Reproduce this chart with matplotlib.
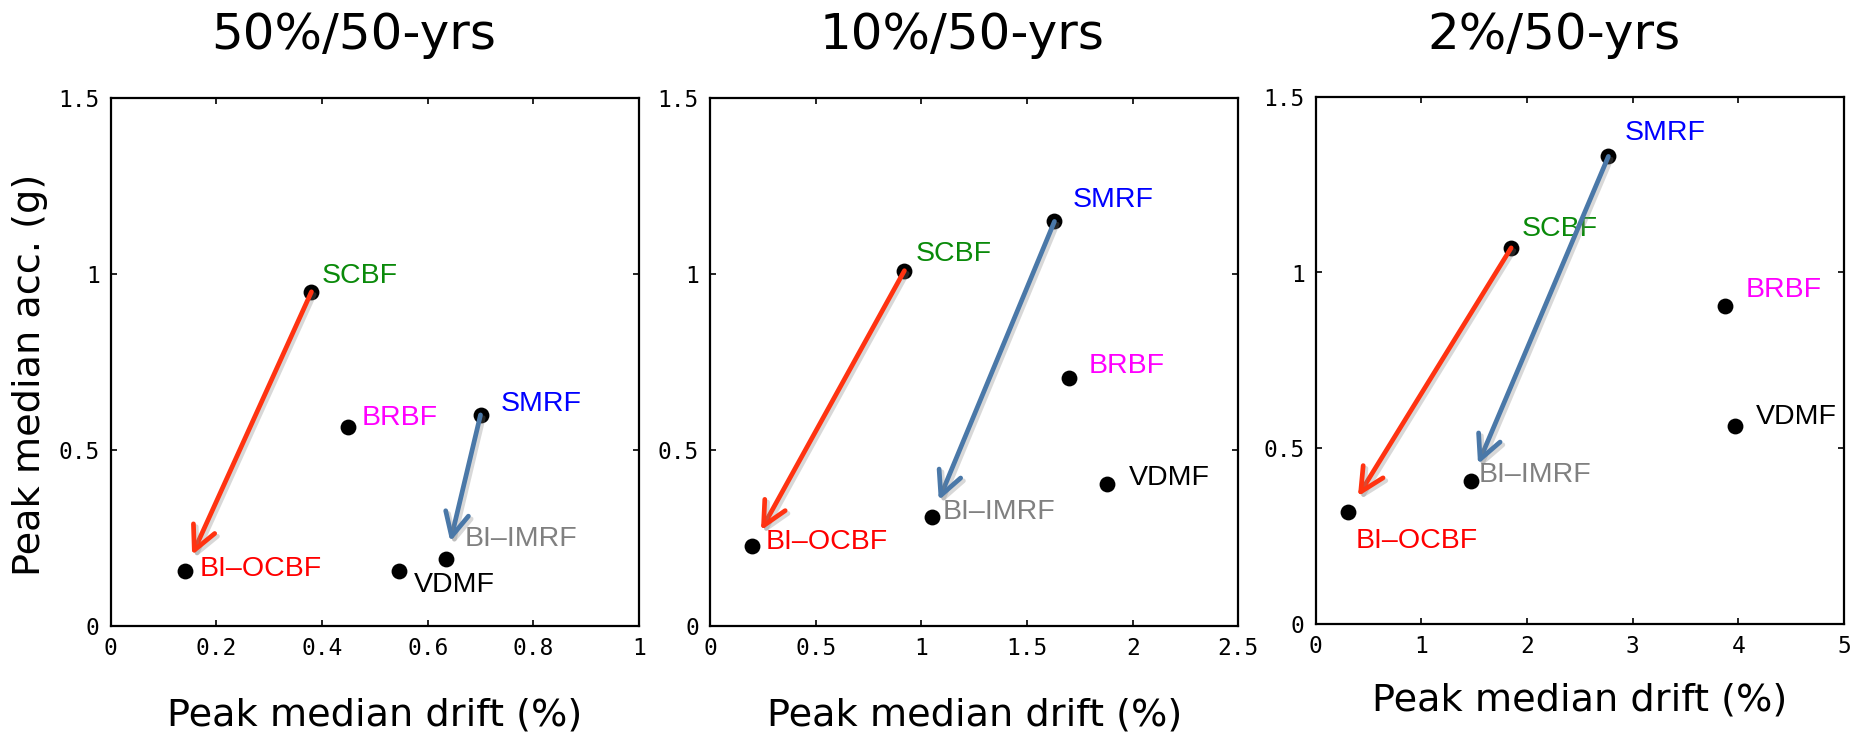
import matplotlib

matplotlib.use("Agg")
import matplotlib.pyplot as plt
import matplotlib.patheffects as pe
from matplotlib.ticker import FuncFormatter, MultipleLocator

# data
systems = ["SCBF", "BRBF", "SMRF", "BI–OCBF", "VDMF", "BI–IMRF"]
label_colors = ["#0A8A0A", "#FF00FF", "#0000FF", "#FF0000", "#000000", "#808080"]
hazard_levels = ["50%/50-yrs", "10%/50-yrs", "2%/50-yrs"]

drift_50 = [0.38, 0.45, 0.70, 0.14, 0.545, 0.635]
acc_50 = [0.95, 0.565, 0.60, 0.155, 0.155, 0.19]
drift_10 = [0.92, 1.70, 1.63, 0.20, 1.88, 1.05]
acc_10 = [1.01, 0.705, 1.15, 0.227, 0.405, 0.31]
drift_2 = [1.85, 3.87, 2.77, 0.31, 3.97, 1.47]
acc_2 = [1.07, 0.905, 1.33, 0.32, 0.563, 0.408]

x_max = [1.0, 2.5, 5.0]
x_step = [0.2, 0.5, 1.0]

# arrows: (from, to, colour)
arrows = [("SCBF", "BI–OCBF", "#FF3311"), ("SMRF", "BI–IMRF", "#4A78A8")]

# label offsets in pixels (dx, dy) per panel
label_offsets = [
    [(10, 16), (13, 9), (20, 11), (15, 2), (15, -14), (18, 20)],
    [(11, 17), (19, 12), (18, 21), (13, 4), (22, 6), (11, 5)],
    [(11, 19), (21, 16), (16, 23), (7, -29), (21, 9), (8, 6)],
]
axes_left = [110.7, 710.0, 1315.7]
axes_bottom = [106.0, 106.0, 107.7]
title_x = [354, 962, 1554]
xlabel_pad = [27, 27, 17]

W, H = 1854, 732
fig = plt.figure(figsize=(W / 100, H / 100), dpi=100)

panels = [(drift_50, acc_50), (drift_10, acc_10), (drift_2, acc_2)]
fmt = FuncFormatter(lambda v, _: f"{v:g}")

for i, (xs, ys) in enumerate(panels):
    ax = fig.add_axes([axes_left[i] / W, axes_bottom[i] / H, 528.3 / W, 527.7 / H])
    ax.set_xlim(0, x_max[i])
    ax.set_ylim(0, 1.5)
    ax.xaxis.set_major_locator(MultipleLocator(x_step[i]))
    ax.yaxis.set_major_locator(MultipleLocator(0.5))
    ax.xaxis.set_major_formatter(fmt)
    ax.yaxis.set_major_formatter(fmt)
    ax.tick_params(direction="in", top=True, right=True, length=4, width=1.2,
                   labelsize=16.5, pad=8)
    for lab in ax.get_xticklabels() + ax.get_yticklabels():
        lab.set_family("DejaVu Sans Mono")
    for sp in ax.spines.values():
        sp.set_linewidth(1.6)

    ax.scatter(xs, ys, s=130, color="black", zorder=3, linewidths=0)

    for name, (dx, dy), col, x, y in zip(systems, label_offsets[i], label_colors, xs, ys):
        ax.annotate(name, (x, y), xytext=(dx, dy), textcoords="offset pixels",
                    ha="left", va="center", fontsize=20.5, color=col,
                    family="Liberation Sans", zorder=4)

    for src, dst, col in arrows:
        a, b = systems.index(src), systems.index(dst)
        ax.annotate("", xy=(xs[b], ys[b]), xytext=(xs[a], ys[a]),
                    arrowprops=dict(arrowstyle="->, head_length=0.85, head_width=0.42",
                                    color=col, lw=3.4, shrinkA=0, shrinkB=13,
                                    mutation_scale=20,
                                    path_effects=[pe.SimpleLineShadow(offset=(2, -2),
                                                                      shadow_color="gray",
                                                                      alpha=0.3),
                                                  pe.Normal()]),
                    zorder=5)

    ax.set_xlabel("Peak median drift (%)", fontsize=27.5, labelpad=xlabel_pad[i])

    fig.text(title_x[i] / W, 1 - 35 / H, hazard_levels[i], ha="center", va="center",
             fontsize=36)

fig.text(30.5 / W, 1 - 375 / H, "Peak median acc. (g)", rotation=90,
         ha="center", va="center", fontsize=27.5)

fig.savefig("out.png", dpi=100)
